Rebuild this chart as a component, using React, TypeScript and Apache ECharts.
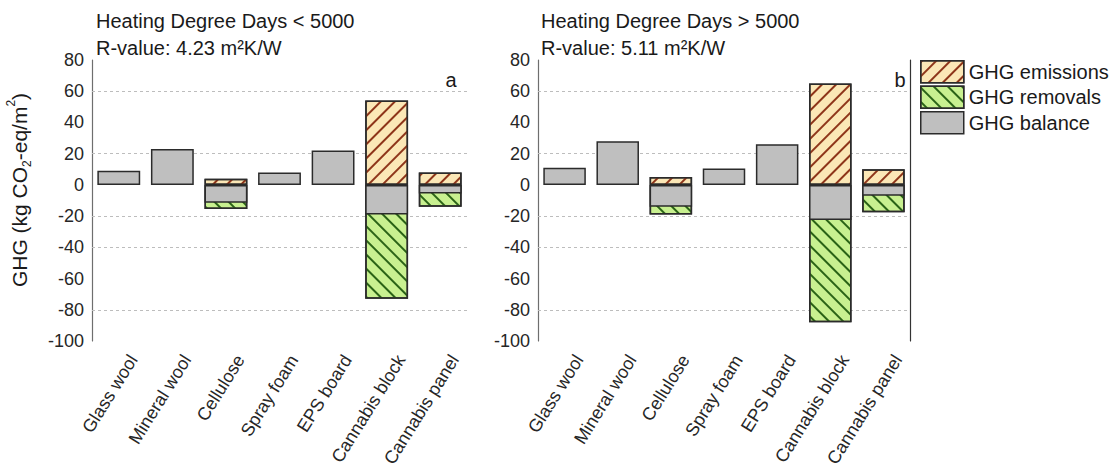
import React, { useEffect, useRef } from "react";
import * as echarts from "echarts";

const categories = [
  "Glass wool",
  "Mineral wool",
  "Cellulose",
  "Spray foam",
  "EPS board",
  "Cannabis block",
  "Cannabis panel",
];
const seriesNames = ["GHG emissions", "GHG removals", "GHG balance"];

// Panel a: Heating Degree Days < 5000
const emissionsA = [null, null, 4, null, null, 54, 8];
const removalsA = [null, null, -15.5, null, null, -73, -14];
const balanceA = [9, 23, -11.5, 8, 22, -19, -5.5];

// Panel b: Heating Degree Days > 5000
const emissionsB = [null, null, 5, null, null, 65, 10];
const removalsB = [null, null, -19, null, null, -88, -17.5];
const balanceB = [11, 28, -14, 10.5, 26, -22.5, -7];

const yMin = -100;
const yMax = 80;
const yInterval = 20;
const gridLineValues = [60, 20, -20, -40, -80];

const titlesA = ["Heating Degree Days < 5000", "R-value: 4.23 m\u00B2K/W"];
const titlesB = ["Heating Degree Days > 5000", "R-value: 5.11 m\u00B2K/W"];
const panelLetters = ["a", "b"];

const FONT = '"Liberation Sans", Arial, sans-serif';

export default function App() {
  const ref = useRef<HTMLDivElement>(null);

  useEffect(() => {
    document.body.style.margin = "0";
    const chart = echarts.init(ref.current!, null, { renderer: "svg" });

    const border = "#2b2b2b";
    const emissionStyle = {
      color: "#fbe7b6",
      borderColor: border,
      borderWidth: 1.5,
      decal: {
        symbol: "rect",
        symbolSize: 1,
        dashArrayX: [1, 0],
        dashArrayY: [1.3, 8],
        rotation: -Math.PI / 4,
        color: "#8e3519",
      },
    };
    const removalStyle = {
      color: "#c8f090",
      borderColor: border,
      borderWidth: 1.5,
      decal: {
        symbol: "rect",
        symbolSize: 1,
        dashArrayX: [1, 0],
        dashArrayY: [1.3, 8],
        rotation: Math.PI / 4,
        color: "#2a6316",
      },
    };
    const balanceStyle = { color: "#bfbfbf", borderColor: border, borderWidth: 1.5 };

    const gridMarks = {
      silent: true,
      z: 1,
      symbol: ["none", "none"],
      label: { show: false },
      lineStyle: { type: [3, 3], color: "#bdbdbd", width: 1 },
      emphasis: { disabled: true },
      data: gridLineValues.map((v) => ({ yAxis: v })),
    };

    const makeSeries = (xi: number, yi: number, E: any[], R: any[], B: any[]) => [
      {
        name: seriesNames[0],
        type: "bar",
        xAxisIndex: xi,
        yAxisIndex: yi,
        data: E,
        barWidth: "80%",
        barGap: "-100%",
        itemStyle: emissionStyle,
        emphasis: { disabled: true },
        markLine: gridMarks,
      },
      {
        name: seriesNames[1],
        type: "bar",
        xAxisIndex: xi,
        yAxisIndex: yi,
        data: R,
        barWidth: "80%",
        barGap: "-100%",
        itemStyle: removalStyle,
        emphasis: { disabled: true },
      },
      {
        name: seriesNames[2],
        type: "bar",
        xAxisIndex: xi,
        yAxisIndex: yi,
        data: B,
        barWidth: "80%",
        barGap: "-100%",
        itemStyle: balanceStyle,
        emphasis: { disabled: true },
      },
    ];

    const xAxisBase = (gi: number) => ({
      type: "category",
      gridIndex: gi,
      data: categories,
      axisLine: { show: false },
      axisTick: { show: false },
      splitLine: { show: false },
      axisLabel: {
        interval: 0,
        rotate: 58,
        margin: 6.5,
        verticalAlign: "top",
        lineHeight: 34,
        fontSize: 18,
        color: "#262626",
        fontFamily: FONT,
      },
    });

    const yAxisBase = (gi: number) => ({
      type: "value",
      gridIndex: gi,
      min: yMin,
      max: yMax,
      interval: yInterval,
      axisLine: { show: true, lineStyle: { color: "#6e6e6e", width: 1.2 } },
      axisTick: { show: false },
      splitLine: { show: false },
      axisLabel: { fontSize: 18, color: "#262626", margin: 8, fontFamily: FONT },
    });

    const textEl = (text: string, x: number, y: number, size = 20, align = "left") => ({
      type: "text",
      x,
      y,
      style: {
        text,
        fontSize: size,
        fontFamily: FONT,
        fill: "#1a1a1a",
        align,
        textAlign: align,
        verticalAlign: "middle",
        textVerticalAlign: "middle",
      },
    });

    const option: any = {
      animation: false,
      textStyle: { fontFamily: FONT },
      grid: [
        { left: 92, top: 60, width: 375, height: 281, outerBoundsMode: "none" },
        { left: 538, top: 60, width: 372, height: 281, outerBoundsMode: "none" },
      ],
      xAxis: [xAxisBase(0), xAxisBase(1)],
      yAxis: [
        yAxisBase(0),
        yAxisBase(1),
        {
          type: "value",
          gridIndex: 1,
          position: "right",
          min: yMin,
          max: yMax,
          interval: yInterval,
          axisLine: { show: true, lineStyle: { color: "#333333", width: 1.2 } },
          axisTick: { show: false },
          axisLabel: { show: false },
          splitLine: { show: false },
        },
      ],
      legend: {
        data: seriesNames,
        orient: "vertical",
        left: 920,
        top: 60,
        padding: 0,
        itemWidth: 43,
        itemHeight: 22,
        itemGap: 2,
        icon: "rect",
        selectedMode: false,
        textStyle: { fontSize: 20, color: "#1a1a1a", fontFamily: FONT },
        itemStyle: { borderColor: border, borderWidth: 1.5 },
      },
      series: [
        ...makeSeries(0, 0, emissionsA, removalsA, balanceA),
        ...makeSeries(1, 1, emissionsB, removalsB, balanceB),
      ],
      graphic: [
        textEl(titlesA[0], 96, 21),
        textEl(titlesA[1], 96, 48),
        textEl(titlesB[0], 541, 21),
        textEl(titlesB[1], 541, 48),
        textEl(panelLetters[0], 451, 80, 20, "center"),
        textEl(panelLetters[1], 900, 80, 20, "center"),
        {
          type: "text",
          x: 19,
          y: 190,
          rotation: Math.PI / 2,
          style: {
            text: "{n|GHG (kg CO}{b|2}{n|-eq/m}{t|2}{n|)}",
            align: "center",
            textAlign: "center",
            verticalAlign: "middle",
            textVerticalAlign: "middle",
            fill: "#1a1a1a",
            rich: {
              n: { fontSize: 21, lineHeight: 28, fontFamily: FONT, fill: "#1a1a1a" },
              b: { fontSize: 12, lineHeight: 12, verticalAlign: "bottom", fontFamily: FONT, fill: "#1a1a1a" },
              t: { fontSize: 12, lineHeight: 12, verticalAlign: "top", fontFamily: FONT, fill: "#1a1a1a" },
            },
          },
        },
      ],
    };

    chart.setOption(option);
    return () => chart.dispose();
  }, []);

  return <div ref={ref} style={{ width: 1118, height: 470 }} />;
}
